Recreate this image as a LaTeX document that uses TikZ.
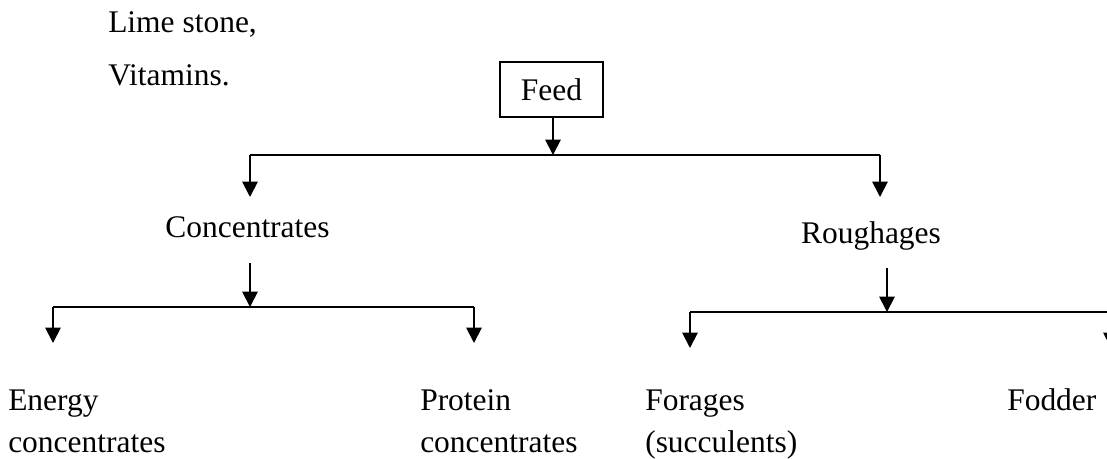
\documentclass[tikz,border=0pt]{standalone}
\usepackage{fontspec}
\setmainfont{Liberation Serif}
\usetikzlibrary{arrows.meta}
\tikzset{
  lbl/.style={inner sep=0pt, anchor=base west, align=left, font=\fontsize{23.6}{31.5}\selectfont},
  feedbox/.style={draw, line width=1.1pt, inner sep=0pt, minimum width=77pt, minimum height=41pt, font=\fontsize{23.6}{28}\selectfont},
  conn/.style={line width=1.4pt},
  arr/.style={line width=1.4pt, -{Triangle[width=11.5pt,length=11.5pt]}}
}
\begin{document}
\begin{tikzpicture}[x=0.75pt,y=-0.75pt]
\useasboundingbox (0,0) rectangle (1107,458);
\clip (0,0) rectangle (1107,458);
% texts
\node[lbl] (lime) at (108,32) {Lime stone,};
\node[lbl] (vit) at (108,85) {Vitamins.};
\node[feedbox] (feed) at (551.5,89.5) {Feed};
\node[lbl, anchor=base] (conc) at (247.5,237) {Concentrates};
\node[lbl, anchor=base] (rough) at (871,243) {Roughages};
\node[lbl] (energy) at (8,452) {Energy\\concentrates};
\node[lbl] (protein) at (420,452) {Protein\\concentrates};
\node[lbl] (forages) at (645,452) {Forages\\(succulents)};
\node[lbl] (fodder) at (1007,410) {Fodder};
% junction coordinates
\coordinate (j1) at (553,155);
\coordinate (j1l) at (250,155);
\coordinate (j1r) at (880,155);
\coordinate (t1l) at (250,197);
\coordinate (t1r) at (880,197);
\coordinate (c0) at (250,263);
\coordinate (j2) at (250,307);
\coordinate (j2l) at (53,307);
\coordinate (j2r) at (474,307);
\coordinate (t2l) at (53,343);
\coordinate (t2r) at (474,343);
\coordinate (r0) at (887,268);
\coordinate (j3) at (887,312);
\coordinate (j3l) at (690,312);
\coordinate (j3r) at (1111,312);
\coordinate (t3l) at (690,348);
\coordinate (t3r) at (1111,348);
% connectors
\draw[arr] (feed.south -| j1) -- (j1);
\draw[conn] (j1l) -- (j1r);
\draw[arr] (j1l) -- (t1l);
\draw[arr] (j1r) -- (t1r);
\draw[arr] (c0) -- (j2);
\draw[conn] (j2l) -- (j2r);
\draw[arr] (j2l) -- (t2l);
\draw[arr] (j2r) -- (t2r);
\draw[arr] (r0) -- (j3);
\draw[conn] (j3l) -- (j3r);
\draw[arr] (j3l) -- (t3l);
\draw[arr] (j3r) -- (t3r);
\end{tikzpicture}
\end{document}
